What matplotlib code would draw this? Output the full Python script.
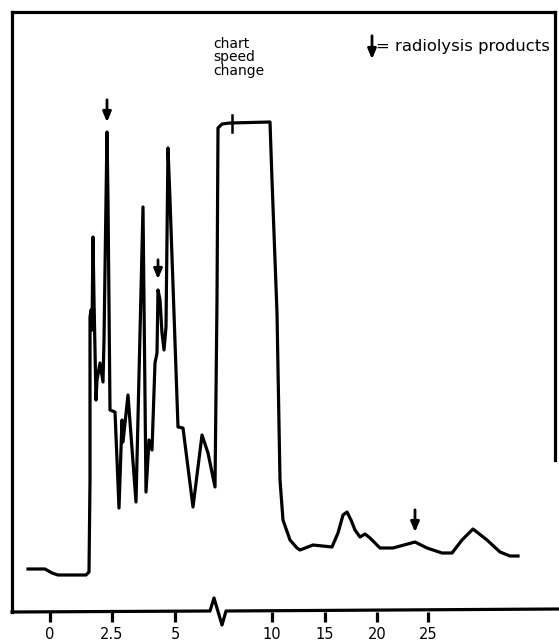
import numpy as np
import matplotlib.pyplot as plt

# trace: x = chart position, y = detector response above the axis
trace_x = [28, 45, 52, 58, 86, 89, 90, 90, 91, 92, 93, 94, 95, 96, 97, 100, 103, 104, 106, 107,
           108, 110, 115, 119, 122, 123, 128, 136, 143, 146, 149, 152, 155, 157, 158, 160, 162,
           164, 166, 168, 170, 178, 183, 193, 202, 208, 215, 217, 218, 222, 230, 270, 272, 277,
           280, 283, 290, 297, 300, 313, 332, 338, 343, 347, 351, 355, 360, 365, 370, 380, 393,
           415, 427, 442, 452, 462, 473, 487, 500, 510, 518]
trace_y = [43, 43, 39, 37, 37, 40, 132, 295, 302, 282, 375, 312, 262, 212, 232, 249, 230, 272,
           412, 480, 412, 202, 200, 104, 192, 170, 217, 110, 405, 120, 172, 162, 249, 259, 322,
           312, 279, 262, 285, 464, 412, 185, 184, 105, 177, 159, 125, 312, 484, 488, 489, 490,
           432, 299, 132, 92, 72, 64, 62, 67, 65, 79, 97, 100, 92, 82, 75, 78, 74, 64, 64, 70,
           64, 59, 59, 72, 83, 72, 60, 56, 56]

# radiolysis product arrows: (x, arrow top, arrow tip)
arrow_x = [107, 158, 415]
arrow_top = [515, 355, 105]
arrow_tip = [487, 330, 77]

tick_pos = [50, 112, 175, 272, 325, 377, 428]
tick_labels = ['0', '2.5', '5', '10', '15', '20', '25']

# axis line with the break at the chart speed change
axis_x = [12, 210, 214, 222, 226, 559]
axis_y = [0, 1, 14, -13, 1, 3]

fig = plt.figure(figsize=(5.59, 6.43), dpi=100)
ax = fig.add_axes([12 / 559, 31 / 643, 543 / 559, 600 / 643])
ax.set_xlim(12, 555)
ax.set_ylim(0, 600)

ax.plot(trace_x, trace_y, color='black', lw=2.3, solid_joinstyle='round')

for x, y0, y1 in zip(arrow_x, arrow_top, arrow_tip):
    ax.annotate('', xy=(x, y1), xytext=(x, y0),
                arrowprops=dict(arrowstyle='-|>,head_width=0.25,head_length=0.6',
                                color='black', lw=2))

# chart speed change mark on the plateau
ax.plot([232, 232], [480, 497], color='black', lw=1.8)
ax.text(213, 575, 'chart\nspeed\nchange', ha='left', va='top', fontsize=10, linespacing=0.95)

# legend
ax.annotate('', xy=(372, 550), xytext=(372, 579),
            arrowprops=dict(arrowstyle='-|>,head_width=0.25,head_length=0.6',
                            color='black', lw=2), annotation_clip=False)
ax.text(376, 565, '= radiolysis products', ha='left', va='center', fontsize=11.8)

ax.plot(axis_x, axis_y, color='black', lw=2.3, clip_on=False)

for s in ['left', 'top', 'right']:
    ax.spines[s].set_linewidth(2.3)
ax.spines['right'].set_bounds(152, 600)
ax.spines['bottom'].set_visible(False)

ax.set_xticks(tick_pos)
ax.set_xticklabels(tick_labels, fontsize=10.5)
ax.tick_params(axis='x', direction='out', length=7, width=2.3, pad=4)
ax.set_yticks([])

fig.savefig('out.png', dpi=100)
